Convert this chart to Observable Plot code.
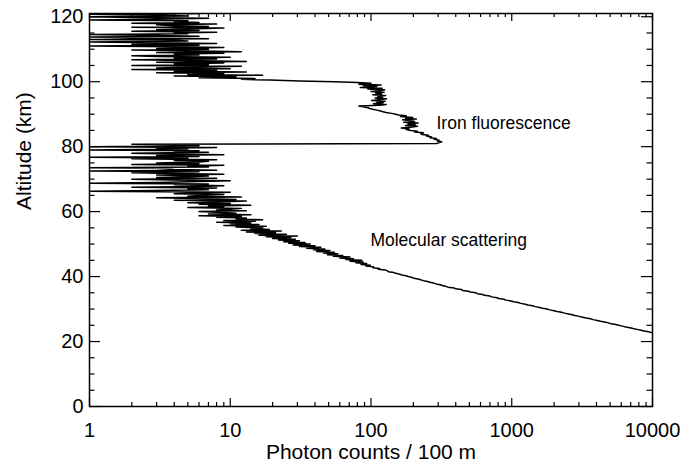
<!DOCTYPE html>
<html>
<head>
<meta charset="utf-8">
<script src="https://cdn.jsdelivr.net/npm/d3@7"></script>
<script src="https://cdn.jsdelivr.net/npm/@observablehq/plot@0.6"></script>
<style>
  html, body { margin: 0; padding: 0; background: #fff; }
</style>
</head>
<body>
<div id="chart"></div>
<script>
// ---- Data: photon counts per 100 m bin (0.25 km grid) ----
const altitudeStep = 0.25; // km

// 22.00 – 44.75 km (Rayleigh / molecular scattering, strong signal)
const stratosphereStart = 22;
const countsStratosphere = [
  11850, 11120, 10510, 9860,
  9390, 8700, 8310, 7760,
  7290, 6910, 6450, 6120,
  5760, 5490, 5090, 4870,
  4560, 4270, 4050, 3790,
  3620, 3380, 3190, 3020,
  2810, 2690, 2530, 2370,
  2260, 2100, 2000, 1860,
  1780, 1660, 1580, 1470,
  1410, 1300, 1250, 1160,
  1110, 1030, 990, 910,
  880, 810, 785, 720,
  700, 640, 622, 570,
  556, 505, 494, 448,
  440, 398, 390, 352,
  340, 322, 310, 290,
  278, 262, 252, 236,
  225, 216, 202, 196,
  184, 177, 165, 160,
  150, 145, 133, 131,
  127, 112, 115, 103,
  104, 92, 99, 85,
  93, 78, 88, 71
];

// 45.00 – 80.75 km (molecular signal fading into background)
const mesosphereStart = 45;
const countsMesosphere = [
  86, 66, 75, 60,
  71, 54, 63, 49,
  58, 46, 55, 41,
  51, 39, 47, 35,
  44, 31, 40, 28,
  37, 26, 34, 24,
  31, 22, 29, 20,
  27, 18, 30, 16,
  25, 15, 21, 13,
  23, 12, 19, 14,
  17, 11, 18, 9,
  16, 10, 14, 8,
  15, 9, 17, 11,
  13, 8, 12, 6,
  14, 7, 11, 9,
  6, 13, 8, 10,
  12, 5, 9, 7,
  14, 6, 10, 5,
  8, 13, 4, 11,
  7, 3, 12, 5,
  6, 9, 4, 7,
  10, 1, 3, 7,
  5, 8, 2, 6,
  9, 4, 7, 1,
  3, 6, 10, 4,
  2, 8, 3, 5,
  7, 3, 9, 4,
  2, 6, 1, 8,
  4, 3, 1, 7,
  5, 9, 2, 6,
  3, 6, 7, 4,
  8, 2, 5, 1,
  6, 3, 9, 4,
  2, 7, 4, 6,
  1, 5, 3, 8,
  1, 6, 4, 2
];

// 81.00 – 99.75 km (iron resonance fluorescence layer)
const ironLayerStart = 81;
const countsIronLayer = [
  292, 306, 318, 296,
  305, 281, 292, 262,
  270, 248, 256, 231,
  226, 236, 204, 214,
  192, 178, 186, 164,
  190, 214, 176, 207,
  183, 216, 171, 204,
  192, 168, 210, 176,
  198, 162, 178, 157,
  150, 140, 128, 122,
  117, 110, 103, 98,
  95, 88, 82, 115,
  128, 104, 122, 110,
  126, 101, 118, 129,
  107, 121, 112, 127,
  103, 119, 108, 124,
  100, 116, 125, 95,
  120, 84, 110, 88,
  118, 82, 100, 80
];

// 100.00 – 121.75 km (background)
const thermosphereStart = 100;
const countsThermosphere = [
  55, 31, 19, 12,
  15, 6, 11, 4,
  17, 5, 9, 3,
  13, 4, 8, 2,
  10, 3, 6, 12,
  2, 7, 4, 9,
  3, 13, 5, 2,
  8, 4, 10, 3,
  2, 6, 4, 9,
  3, 12, 5, 2,
  7, 3, 9, 4,
  1, 6, 2, 8,
  3, 1, 5, 4,
  1, 7, 2, 1,
  6, 3, 1, 5,
  4, 8, 2, 6,
  3, 5, 9, 2,
  7, 4, 3, 8,
  2, 6, 4, 5,
  1, 3, 7, 2,
  1, 5, 3, 1,
  6, 2, 4, 3
];

// Axis ticks
const xMajorTicks = [1, 10, 100, 1000, 10000];
const xMinorTicks = [2,3,4,5,6,7,8,9, 20,30,40,50,60,70,80,90, 200,300,400,500,600,700,800,900, 2000,3000,4000,5000,6000,7000,8000,9000];
const yMajorTicks = [0, 20, 40, 60, 80, 100, 120];
const yMinorTicks = [5,10,15, 25,30,35, 45,50,55, 65,70,75, 85,90,95, 105,110,115];

const xTitle = "Photon counts / 100 m";
const yTitle = "Altitude (km)";
const annotations = [
  {label: "Iron fluorescence", count: 292, altitude: 87.1},
  {label: "Molecular scattering", count: 99, altitude: 51.1}
];

// ---- Build table ----
const segments = [
  [stratosphereStart, countsStratosphere],
  [mesosphereStart, countsMesosphere],
  [ironLayerStart, countsIronLayer],
  [thermosphereStart, countsThermosphere]
];
const profile = [];
for (const [start, counts] of segments) {
  counts.forEach((c, i) => profile.push({altitude: start + i * altitudeStep, count: c}));
}

const W = 691, H = 466;
const mL = 89, mR = 39, mT = 13, mB = 60;
const innerW = W - mL - mR, innerH = H - mT - mB;
const xMajLen = 8, xMinLen = 4, yMajLen = 11, yMinLen = 5.5;
const font = "'Liberation Sans', Arial, Helvetica, sans-serif";

const chart = Plot.plot({
  width: W,
  height: H,
  marginLeft: mL, marginRight: mR, marginTop: mT, marginBottom: mB,
  style: {fontFamily: font, fontSize: "20px", color: "black", background: "white", overflow: "visible"},
  x: {type: "log", domain: [1, 10000], axis: null},
  y: {domain: [0, 121], axis: null},
  marks: [
    Plot.line(profile, {x: "count", y: "altitude", stroke: "black", strokeWidth: 1.5, clip: true}),
    // bottom & top ticks
    Plot.tickX(xMajorTicks, {x: d => d, insetTop: innerH - xMajLen, strokeWidth: 1.2}),
    Plot.tickX(xMinorTicks, {x: d => d, insetTop: innerH - xMinLen, strokeWidth: 1.2}),
    Plot.tickX(xMajorTicks, {x: d => d, insetBottom: innerH - xMajLen, strokeWidth: 1.2}),
    Plot.tickX(xMinorTicks, {x: d => d, insetBottom: innerH - xMinLen, strokeWidth: 1.2}),
    // left & right ticks
    Plot.tickY(yMajorTicks, {y: d => d, insetRight: innerW - yMajLen, strokeWidth: 1.2}),
    Plot.tickY(yMinorTicks, {y: d => d, insetRight: innerW - yMinLen, strokeWidth: 1.2}),
    Plot.tickY(yMajorTicks, {y: d => d, insetLeft: innerW - yMajLen, strokeWidth: 1.2}),
    Plot.tickY(yMinorTicks, {y: d => d, insetLeft: innerW - yMinLen, strokeWidth: 1.2}),
    Plot.frame({stroke: "black", strokeWidth: 1.5}),
    // tick labels
    Plot.text(xMajorTicks, {x: d => d, frameAnchor: "bottom", dy: 30, text: d => String(d), fontSize: 20}),
    Plot.text(yMajorTicks, {y: d => d, frameAnchor: "left", dx: -6, textAnchor: "end", text: d => String(d), fontSize: 20}),
    // axis titles
    Plot.text([xTitle], {frameAnchor: "bottom", dy: 52, text: d => d, fontSize: 21}),
    Plot.text([yTitle], {frameAnchor: "left", dx: -65, rotate: -90, text: d => d, fontSize: 21}),
    // annotations
    Plot.text(annotations, {x: "count", y: "altitude", text: "label", textAnchor: "start", fontSize: 17.5})
  ]
});
document.getElementById("chart").appendChild(chart);
</script>
</body>
</html>
